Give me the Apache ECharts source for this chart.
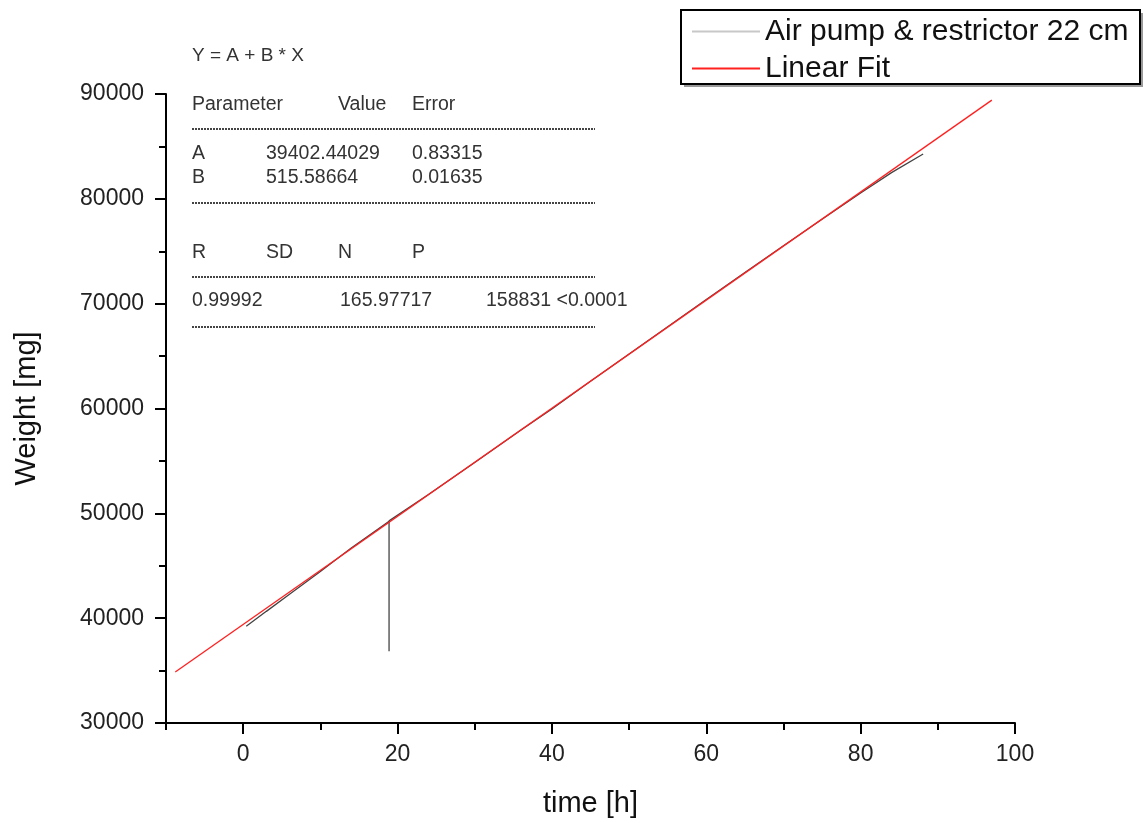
<!DOCTYPE html>
<html>
<head>
<meta charset="utf-8">
<script src="https://cdn.jsdelivr.net/npm/echarts@6/dist/echarts.min.js"></script>
<style>
html,body{margin:0;padding:0;background:#fff;}
#chart{width:1143px;height:823px;}
</style>
</head>
<body>
<div id="chart"></div>
<script>
// ---- data ----
var seriesNames = ['Air pump & restrictor 22 cm', 'Linear Fit'];
var measTime   = [0.4, 3, 6, 10, 14, 18.9, 18.9, 18.9, 24, 30, 36, 40, 45, 50, 55, 60, 65, 70, 75, 80, 84, 88.1];
var measWeight = [39220, 40650, 42280, 44450, 46700, 49230, 36850, 49280, 51800, 54850, 57950, 59950, 62600, 65200, 67800, 70400, 72980, 75520, 78050, 80550, 82500, 84280];
var fitTime    = [-8.8, 97.0];
var fitWeight  = [34865, 89415];
var xMajorTicks = [0, 20, 40, 60, 80, 100];
var xMinorTicks = [-10, 10, 30, 50, 70, 90];
var yMajorTicks = [30000, 40000, 50000, 60000, 70000, 80000, 90000];
var yMinorTicks = [35000, 45000, 55000, 65000, 75000, 85000];
var fitHeader = 'Y = A + B * X';
var tableRows = [
  ['Parameter', 'Value', 'Error'],
  ['A', '39402.44029', '0.83315'],
  ['B', '515.58664', '0.01635'],
  ['R', 'SD', 'N', 'P'],
  ['0.99992', '165.97717', '158831 <0.0001']
];

function pairs(xs, ys){ return xs.map(function(x,i){ return [x, ys[i]]; }); }

var FONT = '"Liberation Sans", Arial, sans-serif';
var chart = echarts.init(document.getElementById('chart'), null, {renderer:'canvas'});

function txt(x, cy, s, size){
  size = size || 19.5;
  return {type:'text', left:x, top:cy - size/2, style:{text:s, fill:'#333', font: size+'px '+FONT}, z:10};
}
function dash(y){
  return {type:'line', shape:{x1:192, y1:y, x2:595, y2:y}, style:{stroke:'#444', lineWidth:2, lineDash:[2,1]}, z:10};
}
var g = [];
g.push(txt(192, 56, fitHeader, 19));
g.push(txt(192, 104, tableRows[0][0])); g.push(txt(338, 104, tableRows[0][1])); g.push(txt(412, 104, tableRows[0][2]));
g.push(dash(129));
g.push(txt(192, 153, tableRows[1][0])); g.push(txt(266, 153, tableRows[1][1])); g.push(txt(412, 153, tableRows[1][2]));
g.push(txt(192, 177, tableRows[2][0])); g.push(txt(266, 177, tableRows[2][1])); g.push(txt(412, 177, tableRows[2][2]));
g.push(dash(203));
g.push(txt(192, 252, tableRows[3][0])); g.push(txt(266, 252, tableRows[3][1])); g.push(txt(338, 252, tableRows[3][2])); g.push(txt(412, 252, tableRows[3][3]));
g.push(dash(277));
g.push(txt(192, 300, tableRows[4][0])); g.push(txt(340, 300, tableRows[4][1])); g.push(txt(486, 300, tableRows[4][2]));
g.push(dash(327));
// legend frame with shadow
g.push({type:'rect', shape:{x:684, y:13, width:459, height:74}, style:{fill:'#999'}, z:-1});
g.push({type:'rect', shape:{x:681, y:10, width:459, height:74}, style:{fill:'#fff', stroke:'#000', lineWidth:2}, z:0});

var option = {
  backgroundColor:'#fff',
  animation:false,
  textStyle:{fontFamily:FONT},
  grid:{left:166, right:128, top:94, bottom:99, containLabel:false},
  legend:{
    orient:'vertical', left:686, top:13, padding:[2,4,2,6], itemGap:4,
    itemWidth:68, itemHeight:2, icon:'rect',
    textStyle:{fontSize:30, lineHeight:33, color:'#111', fontFamily:FONT},
    data:[
      {name:seriesNames[0], itemStyle:{color:'#c8c8c8'}},
      {name:seriesNames[1], itemStyle:{color:'#ff2020'}}
    ]
  },
  xAxis:[{
    type:'value', min:-10, max:100, interval:10,
    name:'time [h]', nameLocation:'middle', nameGap:66,
    nameTextStyle:{fontSize:29, color:'#111'},
    axisLine:{show:true, onZero:false, lineStyle:{color:'#000', width:2}},
    axisTick:{show:true, inside:false, length:11, customValues:xMajorTicks, lineStyle:{color:'#000', width:2}},
    axisLabel:{show:true, margin:20, fontSize:23, color:'#222', customValues:xMajorTicks},
    splitLine:{show:false}
  },{
    type:'value', min:-10, max:100, interval:10, position:'bottom',
    axisLine:{show:false, onZero:false},
    axisTick:{show:true, inside:false, length:7, customValues:xMinorTicks, lineStyle:{color:'#000', width:2}},
    axisLabel:{show:false},
    splitLine:{show:false}
  }],
  yAxis:[{
    type:'value', min:30000, max:90000, interval:5000,
    name:'Weight [mg]', nameLocation:'middle', nameGap:125, nameRotate:90,
    nameTextStyle:{fontSize:29, color:'#111'},
    axisLine:{show:true, onZero:false, lineStyle:{color:'#000', width:2}},
    axisTick:{show:true, inside:false, length:11, customValues:yMajorTicks, lineStyle:{color:'#000', width:2}},
    axisLabel:{show:true, margin:22, fontSize:23, color:'#222', customValues:yMajorTicks,
      formatter:function(v){ return String(v); }},
    splitLine:{show:false}
  },{
    type:'value', min:30000, max:90000, interval:5000, position:'left',
    axisLine:{show:false, onZero:false},
    axisTick:{show:true, inside:false, length:7, customValues:yMinorTicks, lineStyle:{color:'#000', width:2}},
    axisLabel:{show:false},
    splitLine:{show:false}
  }],
  graphic:g,
  series:[{
    name:seriesNames[0], type:'line', xAxisIndex:0, yAxisIndex:0,
    data:pairs(measTime, measWeight), showSymbol:false, symbol:'none',
    lineStyle:{color:'#444', width:1.3}, itemStyle:{color:'#c8c8c8'}, z:2
  },{
    name:seriesNames[1], type:'line', xAxisIndex:0, yAxisIndex:0,
    data:pairs(fitTime, fitWeight), showSymbol:false, symbol:'none',
    lineStyle:{color:'#ff2020', width:1.3}, itemStyle:{color:'#ff2020'}, z:3
  }]
};
chart.setOption(option);
</script>
</body>
</html>
